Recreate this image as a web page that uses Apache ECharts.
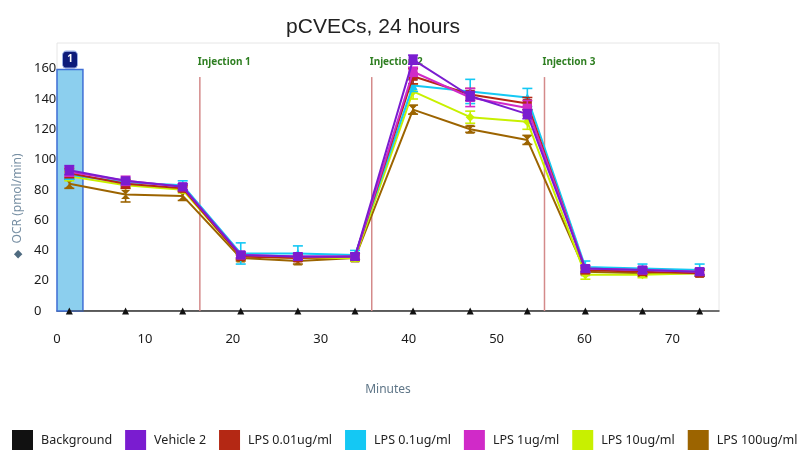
<!DOCTYPE html>
<html>
<head>
<meta charset="utf-8">
<script src="https://cdn.jsdelivr.net/npm/echarts@6/dist/echarts.min.js"></script>
<style>
  html, body { margin: 0; padding: 0; background: #fff; }
  #chart { width: 804px; height: 452px; }
</style>
</head>
<body>
<div id="chart"></div>
<script>
// measurement times (minutes)
const minutes = [1.4, 7.8, 14.3, 20.9, 27.4, 33.9, 40.5, 47.0, 53.5, 60.1, 66.6, 73.1];

const background = [0, 0, 0, 0, 0, 0, 0, 0, 0, 0, 0, 0];
const vehicle2 = [93, 86, 82, 37, 36, 36, 166, 142, 130, 28, 27, 26];
const lps001 = [91, 84, 81, 36, 35, 36, 155, 143, 137, 27, 26, 25];
const lps01 = [90, 85, 83, 38, 38, 37, 149, 145, 141, 29, 28, 27];
const lps1 = [92, 86, 82, 37, 36, 36, 158, 141, 134, 28, 27, 26];
const lps10 = [89, 83, 80, 36, 35, 35, 145, 128, 125, 24, 24, 25];
const lps100 = [84, 77, 76, 35, 33, 35, 133, 120, 113, 26, 25, 25];

// error bars (+/-)
const vehicle2Err = [3, 2, 2, 2, 2, 2, 3, 3, 3, 2, 2, 2];
const lps001Err = [3, 3, 2, 2, 2, 2, 5, 4, 4, 2, 2, 2];
const lps01Err = [3, 2, 3, 7, 5, 3, 4, 8, 6, 4, 3, 4];
const lps1Err = [3, 3, 2, 2, 2, 2, 3, 6, 5, 2, 2, 2];
const lps10Err = [3, 2, 2, 2, 2, 2, 5, 4, 5, 3, 2, 2];
const lps100Err = [3, 5, 3, 2, 2, 2, 3, 2, 3, 2, 2, 2];

const injectionTimes = [16.25, 35.8, 55.45];
const injectionLabels = ["Injection 1", "Injection 2", "Injection 3"];

const legendNames = ["Background", "Vehicle 2", "LPS 0.01ug/ml", "LPS 0.1ug/ml", "LPS 1ug/ml", "LPS 10ug/ml", "LPS 100ug/ml"];

// drawn bottom to top
const groups = [
  { name: "LPS 100ug/ml", values: lps100, err: lps100Err, color: "#9c6400", symbol: "path://M0,0L10,0L0,10L10,10Z" },
  { name: "LPS 10ug/ml", values: lps10, err: lps10Err, color: "#c8f000", symbol: "diamond" },
  { name: "LPS 0.1ug/ml", values: lps01, err: lps01Err, color: "#14c8f4", symbol: "triangle" },
  { name: "LPS 0.01ug/ml", values: lps001, err: lps001Err, color: "#b42814", symbol: "rect" },
  { name: "LPS 1ug/ml", values: lps1, err: lps1Err, color: "#d02ac8", symbol: "rect" },
  { name: "Vehicle 2", values: vehicle2, err: vehicle2Err, color: "#7a1cd0", symbol: "rect" },
];

function errorBarSeries(g) {
  return {
    type: "custom",
    name: g.name,
    silent: true,
    itemStyle: { color: g.color },
    data: minutes.map((t, i) => [t, g.values[i] - g.err[i], g.values[i] + g.err[i]]),
    renderItem: (params, api) => {
      const lo = api.coord([api.value(0), api.value(1)]);
      const hi = api.coord([api.value(0), api.value(2)]);
      const w = 5;
      const style = { stroke: g.color, lineWidth: 1.6 };
      return {
        type: "group",
        children: [
          { type: "line", shape: { x1: lo[0], y1: lo[1], x2: hi[0], y2: hi[1] }, style },
          { type: "line", shape: { x1: lo[0] - w, y1: lo[1], x2: lo[0] + w, y2: lo[1] }, style },
          { type: "line", shape: { x1: hi[0] - w, y1: hi[1], x2: hi[0] + w, y2: hi[1] }, style },
        ],
      };
    },
  };
}

const series = [
  {
    type: "line",
    name: "Background",
    data: minutes.map((t, i) => [t, background[i]]),
    symbol: "triangle",
    symbolSize: 7,
    itemStyle: { color: "#111" },
    lineStyle: { color: "#444", width: 1 },
    z: 1,
    markArea: {
      silent: true,
      itemStyle: { color: "#8ccfee", borderColor: "#3f6fd6", borderWidth: 1.5 },
      data: [[{ coord: [0, 0] }, { coord: [2.95, 159.5] }]],
    },
    markPoint: {
      silent: true,
      symbol: "roundRect",
      symbolSize: [15, 17],
      itemStyle: { color: "#0d1b7a", borderColor: "#9bb0e6", borderWidth: 1 },
      label: { show: true, position: "inside", formatter: "1", color: "#fff", fontWeight: "bold", fontSize: 10, fontFamily: "Noto Sans" },
      data: [{ coord: [1.48, 166] }],
    },
  },
  {
    type: "custom",
    name: "injections",
    silent: true,
    data: injectionTimes.map((t, i) => [t, i]),
    renderItem: (params, api) => {
      const bottom = api.coord([api.value(0), 0]);
      const top = api.coord([api.value(0), 154.5]);
      const lab = api.coord([api.value(0), 164.5]);
      return {
        type: "group",
        children: [
          { type: "line", shape: { x1: bottom[0], y1: bottom[1], x2: top[0], y2: top[1] }, style: { stroke: "#d48a8a", lineWidth: 1.5 } },
          {
            type: "text",
            x: lab[0] - 2,
            y: lab[1],
            style: {
              text: injectionLabels[api.value(1)],
              fill: "#2f7f22",
              font: "bold 10px 'Noto Sans'",
              textAlign: "left",
              textVerticalAlign: "middle",
            },
          },
        ],
      };
    },
  },
];

groups.forEach((g, k) => {
  series.push(Object.assign(errorBarSeries(g), { z: 3 + k }));
  series.push({
    type: "line",
    name: g.name,
    data: minutes.map((t, i) => [t, g.values[i]]),
    symbol: g.symbol,
    symbolSize: 9,
    itemStyle: { color: g.color },
    lineStyle: { color: g.color, width: 2 },
    z: 3 + k,
  });
});

const chart = echarts.init(document.getElementById("chart"));
chart.setOption({
  animation: false,
  title: {
    text: "pCVECs, 24 hours",
    left: 368,
    textAlign: "center",
    top: 12,
    textStyle: { fontFamily: "Liberation Sans", fontSize: 21, fontWeight: "normal", color: "#222" },
  },
  grid: { left: 57, right: 85, top: 43, bottom: 141, show: true, borderColor: "#e6e6e6", borderWidth: 1 },
  legend: {
    data: legendNames,
    left: 12,
    top: 430,
    padding: 0,
    icon: "rect",
    itemWidth: 21,
    itemHeight: 20,
    itemGap: 13,
    textStyle: { fontFamily: "Noto Sans", fontSize: 12.5, color: "#222", padding: [0, 0, 0, 3] },
  },
  xAxis: {
    type: "value",
    min: 0,
    max: 75.3,
    interval: 10,
    name: "Minutes",
    nameLocation: "middle",
    nameGap: 73,
    nameTextStyle: { fontFamily: "Noto Sans", fontSize: 12, color: "#5f7688" },
    axisLine: { lineStyle: { color: "#444", width: 1.5 } },
    axisTick: { show: false },
    splitLine: { show: false },
    axisLabel: { margin: 22, showMaxLabel: false, fontFamily: "Noto Sans", fontSize: 13, color: "#1a1a1a" },
  },
  yAxis: {
    type: "value",
    min: 0,
    max: 177,
    interval: 20,
    axisLine: { show: false },
    axisTick: { show: false },
    splitLine: { show: false },
    axisLabel: { margin: 23, align: "left", showMaxLabel: false, fontFamily: "Noto Sans", fontSize: 13, color: "#1a1a1a" },
  },
  graphic: [
    {
      type: "text",
      x: 18,
      y: 206,
      rotation: Math.PI / 2,
      style: {
        text: "{d|◆}  {t|OCR (pmol/min)}",
        textAlign: "center",
        textVerticalAlign: "middle",
        rich: {
          d: { fill: "#4f6b80", fontSize: 11, fontFamily: "DejaVu Sans" },
          t: { fill: "#7890a4", fontSize: 12, fontFamily: "Noto Sans" },
        },
      },
    },
  ],
  series: series,
});
</script>
</body>
</html>
